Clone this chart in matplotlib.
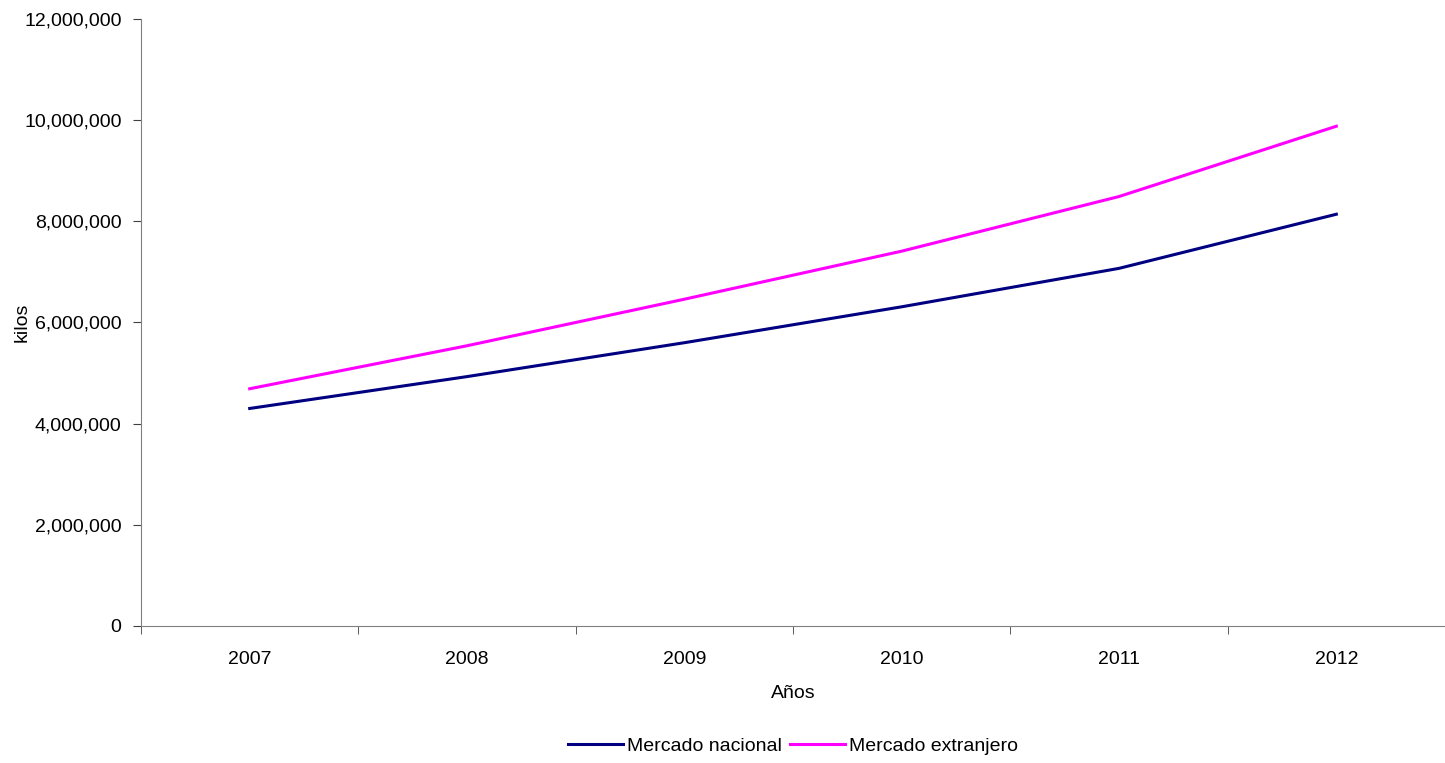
import matplotlib.pyplot as plt
from matplotlib.ticker import FuncFormatter

anios = ['2007', '2008', '2009', '2010', '2011', '2012']
nacional = [4300000, 4930000, 5600000, 6310000, 7070000, 8140000]
extranjero = [4690000, 5540000, 6460000, 7410000, 8490000, 9880000]

plt.rcParams['font.family'] = ['Liberation Sans', 'DejaVu Sans']
plt.rcParams['font.size'] = 14

fig = plt.figure(figsize=(14.45, 7.63), dpi=100)
ax = fig.add_axes([0.0976, 0.1796, 0.9024, 0.7955])

x = list(range(len(anios)))
ax.plot(x, nacional, color='#000080', lw=2.2, label='Mercado nacional')
ax.plot(x, extranjero, color='#ff00ff', lw=2.2, label='Mercado extranjero')

ax.set_xlim(-0.5, len(anios) - 0.5)
ax.set_ylim(0, 12000000)
ax.set_yticks(range(0, 12000001, 2000000))
ax.yaxis.set_major_formatter(FuncFormatter(lambda v, p: f'{int(v):,}'))

ax.set_xticks(x)
ax.set_xticklabels(anios)
ax.set_xticks([i + 0.5 for i in range(-1, len(anios))], minor=True)
ax.tick_params(axis='x', which='major', length=0, pad=18)
ax.tick_params(axis='x', which='minor', length=6, color='#404040')
ax.tick_params(axis='y', length=6, color='#404040', pad=8)

for s in ['top', 'right']:
    ax.spines[s].set_visible(False)
for s in ['left', 'bottom']:
    ax.spines[s].set_color('#808080')

ax.set_xlabel('Años', labelpad=12)
ax.set_ylabel('kilos')
ax.yaxis.set_label_coords(-0.085, 0.5)

fig.legend(loc='center', bbox_to_anchor=(0.549, 0.022), ncol=2, frameon=False,
           handlelength=2.8, handletextpad=0.25, columnspacing=0.4)

fig.savefig('out.png', dpi=100)
